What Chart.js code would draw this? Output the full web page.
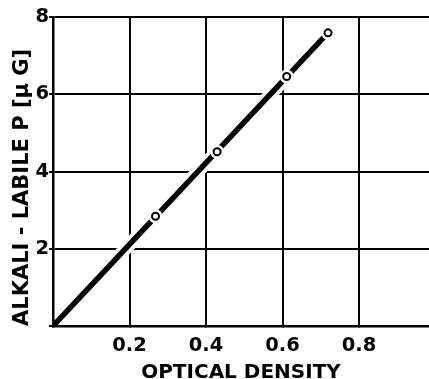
<!DOCTYPE html>
<html>
<head>
<meta charset="utf-8">
<script src="https://cdn.jsdelivr.net/npm/chart.js@4.4.1/dist/chart.umd.min.js"></script>
<style>
  html, body { margin: 0; padding: 0; background: #fff; }
  #wrap { width: 429px; height: 379px; position: relative; }
</style>
</head>
<body>
<div id="wrap"><canvas id="c"></canvas></div>
<script>
// Data
const densityX = [0.268, 0.429, 0.611, 0.719];
const phosphorusY = [2.84, 4.51, 6.46, 7.59];
// Calibration line (fitted, through origin)
const lineX = [0, 0.72];
const lineY = [0, 7.6];
// White halo under the line (keeps clear of the axes at the origin)
const haloX = [0.04, 0.72];
const haloY = [0.42, 7.6];
// Axis ticks
const xTicks = [0.2, 0.4, 0.6, 0.8];
const yTicks = [2, 4, 6, 8];
const xTitle = 'OPTICAL DENSITY';
const yTitle = 'ALKALI - LABILE P [μ G]';

const pts = (xs, ys) => xs.map((x, i) => ({ x: x, y: ys[i] }));
const FONT = '"DejaVu Sans", sans-serif';

const ch = new Chart(document.getElementById('c'), {
  type: 'scatter',
  data: {
    datasets: [
      { data: pts(haloX, haloY), showLine: true, borderColor: '#fff', borderWidth: 13,
        borderCapStyle: 'butt', pointRadius: 0, order: 4 },
      { data: pts(lineX, lineY), showLine: true, borderColor: '#000', borderWidth: 5.5,
        borderCapStyle: 'butt', pointRadius: 0, order: 3 },
      { data: pts(densityX, phosphorusY), showLine: false, pointRadius: 7,
        pointBackgroundColor: '#fff', pointBorderWidth: 0, pointBorderColor: '#fff', order: 2 },
      { data: pts(densityX, phosphorusY), showLine: false, pointRadius: 3.5,
        pointBackgroundColor: '#fff', pointBorderWidth: 2, pointBorderColor: '#000', order: 1 }
    ]
  },
  options: {
    responsive: true,
    maintainAspectRatio: false,
    animation: false,
    events: [],
    layout: { autoPadding: false, padding: { top: 17, right: 0, left: 0, bottom: 0 } },
    plugins: { legend: { display: false }, tooltip: { enabled: false } },
    scales: {
      x: {
        type: 'linear', min: 0, max: 0.983,
        afterFit: s => { s.height = 53; },
        border: { display: true, color: '#000', width: 2.5 },
        grid: { color: '#000', lineWidth: 2, drawTicks: true, tickLength: 0 },
        ticks: {
          stepSize: 0.2, includeBounds: false, autoSkip: false, maxRotation: 0,
          color: '#000', padding: 8,
          font: { family: FONT, size: 19.5, weight: 'bold' },
          callback: v => xTicks.some(t => Math.abs(t - v) < 1e-6) ? v.toFixed(1) : ''
        },
        title: { display: true, text: xTitle, color: '#000',
          font: { family: FONT, size: 20, weight: 'bold', lineHeight: 1 },
          padding: { top: 0, bottom: -4 } }
      },
      y: {
        type: 'linear', min: 0, max: 8,
        afterFit: s => { s.width = 53; },
        border: { display: true, color: '#000', width: 2.5 },
        grid: { color: '#000', lineWidth: 2, drawTicks: true, tickLength: 4 },
        ticks: {
          stepSize: 2, autoSkip: false, color: '#000', padding: 0,
          font: { family: FONT, size: 19.5, weight: 'bold' },
          callback: v => yTicks.includes(v) ? String(v) : ''
        },
        title: { display: true, text: yTitle, color: '#000', align: 'start',
          font: { family: FONT, size: 21, weight: 'bold', lineHeight: 1 },
          padding: { top: 12, bottom: 0 } }
      }
    }
  }
});
</script>
</body>
</html>
